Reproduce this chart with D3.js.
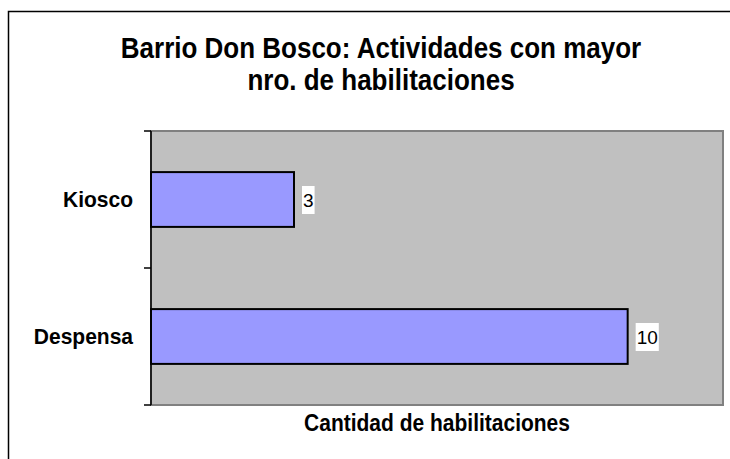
<!DOCTYPE html>
<html>
<head>
<meta charset="utf-8">
<script src="https://cdn.jsdelivr.net/npm/d3@7"></script>
<style>
  body { margin: 0; background: #fff; }
  svg text { font-family: "Liberation Sans", Arial, sans-serif; }
</style>
</head>
<body>
<div class="container"></div>
<script>
var width = 730,
    height = 459;

var titleLines = ['Barrio Don Bosco: Actividades con mayor', 'nro. de habilitaciones'];
var categories = ['Kiosco', 'Despensa'];
var values = [3, 10];
var xMax = 12;
var xTitle = 'Cantidad de habilitaciones';

var plot = { left: 151, top: 131, right: 723, bottom: 405 };

// excel text looks a bit stretched vertically
var place = (px, py, sy) => 'translate(' + px + ',' + py + ') scale(1,' + sy + ')';

var svg = d3.select('.container').append('svg')
    .attr('width', width)
    .attr('height', height);

// outer chart border (runs off the picture to the right and bottom)
svg.append('rect')
    .attr('x', 8.5).attr('y', 11.5)
    .attr('width', 740).attr('height', 470)
    .attr('fill', '#fff')
    .attr('stroke', '#000')
    .attr('stroke-width', 1.5);

var x = d3.scaleLinear()
    .domain([0, xMax])
    .range([plot.left, plot.right]);

var y = d3.scaleBand()
    .domain(categories)
    .range([plot.top, plot.bottom])
    .paddingInner(0.6)
    .paddingOuter(0.3);

// plot area
svg.append('rect')
    .attr('x', plot.left).attr('y', plot.top)
    .attr('width', plot.right - plot.left)
    .attr('height', plot.bottom - plot.top)
    .attr('fill', '#c0c0c0')
    .attr('stroke', '#808080')
    .attr('stroke-width', 2);

// title
svg.append('g').selectAll('text')
    .data(titleLines)
    .enter().append('text')
    .attr('transform', (d, i) => place(381, 58 + i * 32, 1.12))
    .attr('text-anchor', 'middle')
    .style('font-size', '26px')
    .style('font-weight', 'bold')
    .text((d) => d);

// bars
var data = categories.map((c, i) => ({ cat: c, value: values[i] }));

svg.append('g').selectAll('rect')
    .data(data)
    .enter().append('rect')
    .attr('x', x(0))
    .attr('y', (d) => y(d.cat))
    .attr('width', (d) => x(d.value) - x(0))
    .attr('height', y.bandwidth())
    .attr('fill', '#9999ff')
    .attr('stroke', '#000')
    .attr('stroke-width', 2);

// category axis: line + ticks between categories
var step = y.step(),
    half = step * y.paddingInner() / 2;
var tickPos = categories.map((c) => y(c) - half).concat([plot.bottom]);

var axis = svg.append('g').attr('stroke', '#000').attr('stroke-width', 1.5);
axis.append('line')
    .attr('x1', plot.left).attr('x2', plot.left)
    .attr('y1', plot.top).attr('y2', plot.bottom);
axis.selectAll('.tick')
    .data(tickPos)
    .enter().append('line')
    .attr('class', 'tick')
    .attr('x1', plot.left - 7).attr('x2', plot.left)
    .attr('y1', (d) => d).attr('y2', (d) => d);

svg.append('g').selectAll('text')
    .data(categories)
    .enter().append('text')
    .attr('transform', (d) => place(133, y(d) + y.bandwidth() / 2 + 7.8, 1.05))
    .attr('text-anchor', 'end')
    .style('font-size', '21px')
    .style('font-weight', 'bold')
    .text((d) => d);

// value labels with white box
var lab = svg.append('g').selectAll('g')
    .data(data)
    .enter().append('g')
    .attr('transform', (d) => 'translate(' + (x(d.value) + 8) + ',' + (y(d.cat) + y.bandwidth() / 2) + ')');

lab.append('text')
    .attr('x', 1)
    .attr('y', 7)
    .style('font-size', '19px')
    .text((d) => d.value);

lab.insert('rect', 'text')
    .attr('x', 0)
    .attr('y', -13.5)
    .attr('width', function() {
        return this.parentNode.querySelector('text').getComputedTextLength() + 2;
    })
    .attr('height', 28)
    .attr('fill', '#fff');

// x axis title
svg.append('text')
    .attr('transform', place((plot.left + plot.right) / 2, 431, 1.1))
    .attr('text-anchor', 'middle')
    .style('font-size', '21px')
    .style('font-weight', 'bold')
    .text(xTitle);
</script>
</body>
</html>
